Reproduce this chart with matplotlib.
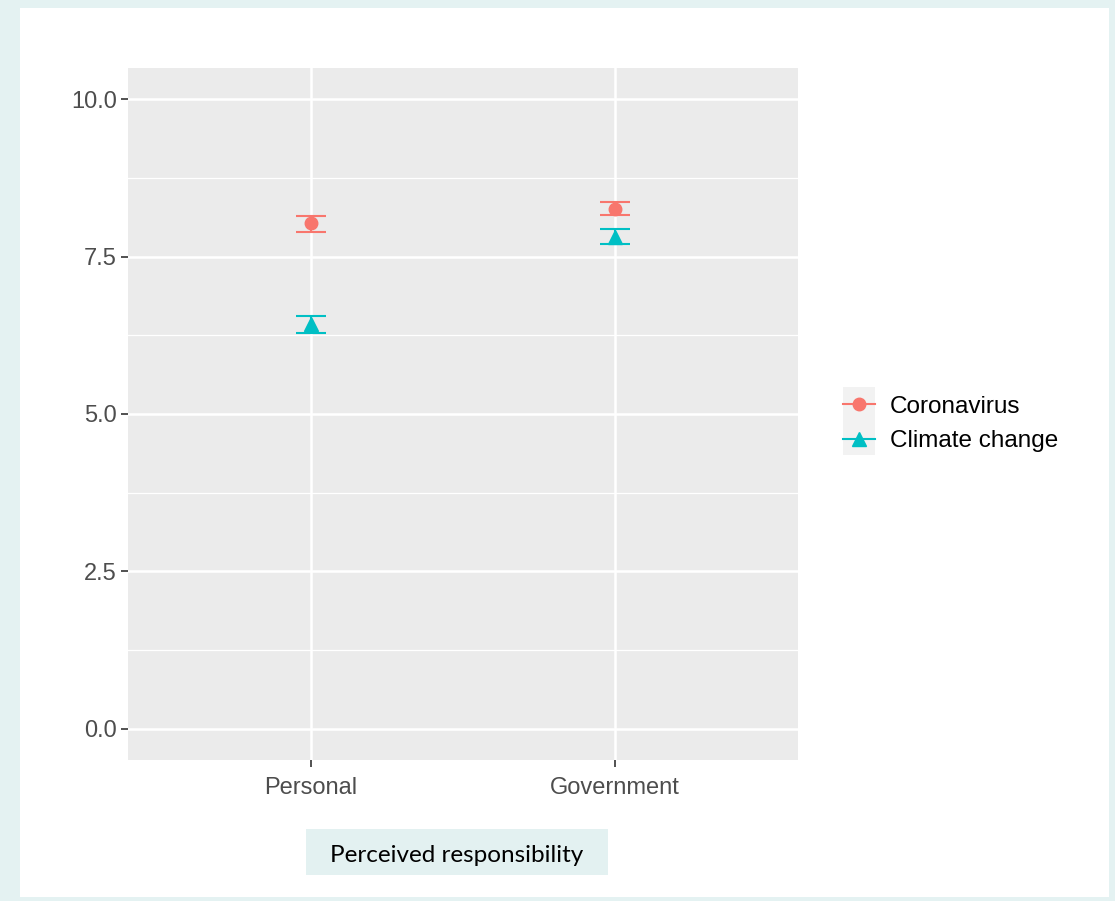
import matplotlib.pyplot as plt
import matplotlib.patches as patches
from matplotlib.lines import Line2D
import numpy as np

# Data
categories = ['Personal', 'Government']
corona_mean = [8.03, 8.26]
corona_low = [7.90, 8.16]
corona_high = [8.15, 8.37]
climate_mean = [6.43, 7.82]
climate_low = [6.28, 7.70]
climate_high = [6.56, 7.94]
y_ticks = [0.0, 2.5, 5.0, 7.5, 10.0]

red = '#F8766D'
teal = '#00BFC4'

W, H = 1115, 901
fig = plt.figure(figsize=(W / 100, H / 100), dpi=100)
fig.patch.set_facecolor('#E4F2F2')

# white inner card
fig.patches.append(patches.Rectangle((20 / W, 1 - 897 / H), 1089 / W, 889 / H,
                                     transform=fig.transFigure, facecolor='white',
                                     edgecolor='none', zorder=0))

ax = fig.add_axes([128 / W, 1 - 760 / H, 670 / W, 692 / H])
ax.set_zorder(3)
ax.set_facecolor('#EBEBEB')
for spine in ax.spines.values():
    spine.set_visible(False)

x = np.arange(1, len(categories) + 1)

# grid
for v in [1.25, 3.75, 6.25, 8.75]:
    ax.axhline(v, color='white', lw=0.9, zorder=1)
for v in y_ticks:
    ax.axhline(v, color='white', lw=1.8, zorder=1)
for v in x:
    ax.axvline(v, color='white', lw=1.8, zorder=1)

def draw(means, lows, highs, color, marker, ms):
    m = np.array(means)
    err = [m - np.array(lows), np.array(highs) - m]
    ax.errorbar(x, m, yerr=err, fmt='none', ecolor=color, elinewidth=1.5,
                capsize=11, capthick=1.5, zorder=3)
    ax.plot(x, m, linestyle='none', marker=marker, color=color, markersize=ms, zorder=4)

draw(corona_mean, corona_low, corona_high, red, 'o', 9)
draw(climate_mean, climate_low, climate_high, teal, '^', 10)

ax.set_xlim(0.4, 2.6)
ax.set_ylim(-0.5, 10.5)
ax.set_xticks(x)
ax.set_xticklabels(categories)
ax.set_yticks(y_ticks)
ax.set_yticklabels(['%.1f' % v for v in y_ticks])
ax.tick_params(axis='both', colors='#333333', length=5, width=1.2, labelsize=17,
               labelcolor='#4D4D4D')
ax.tick_params(axis='x', pad=7)
ax.tick_params(axis='y', pad=3)
for lab in ax.get_xticklabels() + ax.get_yticklabels():
    lab.set_family('Liberation Sans')

# legend
fig.patches.append(patches.Rectangle((843 / W, 1 - 455 / H), 32 / W, 68 / H,
                                     transform=fig.transFigure, facecolor='#F2F2F2',
                                     edgecolor='none', zorder=1))
handles = [Line2D([], [], color=red, marker='o', markersize=9, lw=1.5),
           Line2D([], [], color=teal, marker='^', markersize=10, lw=1.5)]
leg = fig.legend(handles, ['Coronavirus', 'Climate change'], loc='center left',
                 bbox_to_anchor=(843 / W, 1 - 424 / H), frameon=False,
                 prop={'family': 'Liberation Sans', 'size': 17.5}, handlelength=1.33,
                 handletextpad=0.6, labelspacing=0.5, borderpad=0, borderaxespad=0)
leg.set_zorder(4)

# caption box
fig.patches.append(patches.Rectangle((306 / W, 1 - 875 / H), 302 / W, 46 / H,
                                     transform=fig.transFigure, facecolor='#E3F1F1',
                                     edgecolor='none', zorder=1))
fig.text(457 / W, 1 - 856 / H, 'Perceived responsibility', ha='center', va='center',
         fontsize=17.5, family='Lato', color='black')

plt.savefig('out.png', dpi=100, facecolor=fig.get_facecolor())
